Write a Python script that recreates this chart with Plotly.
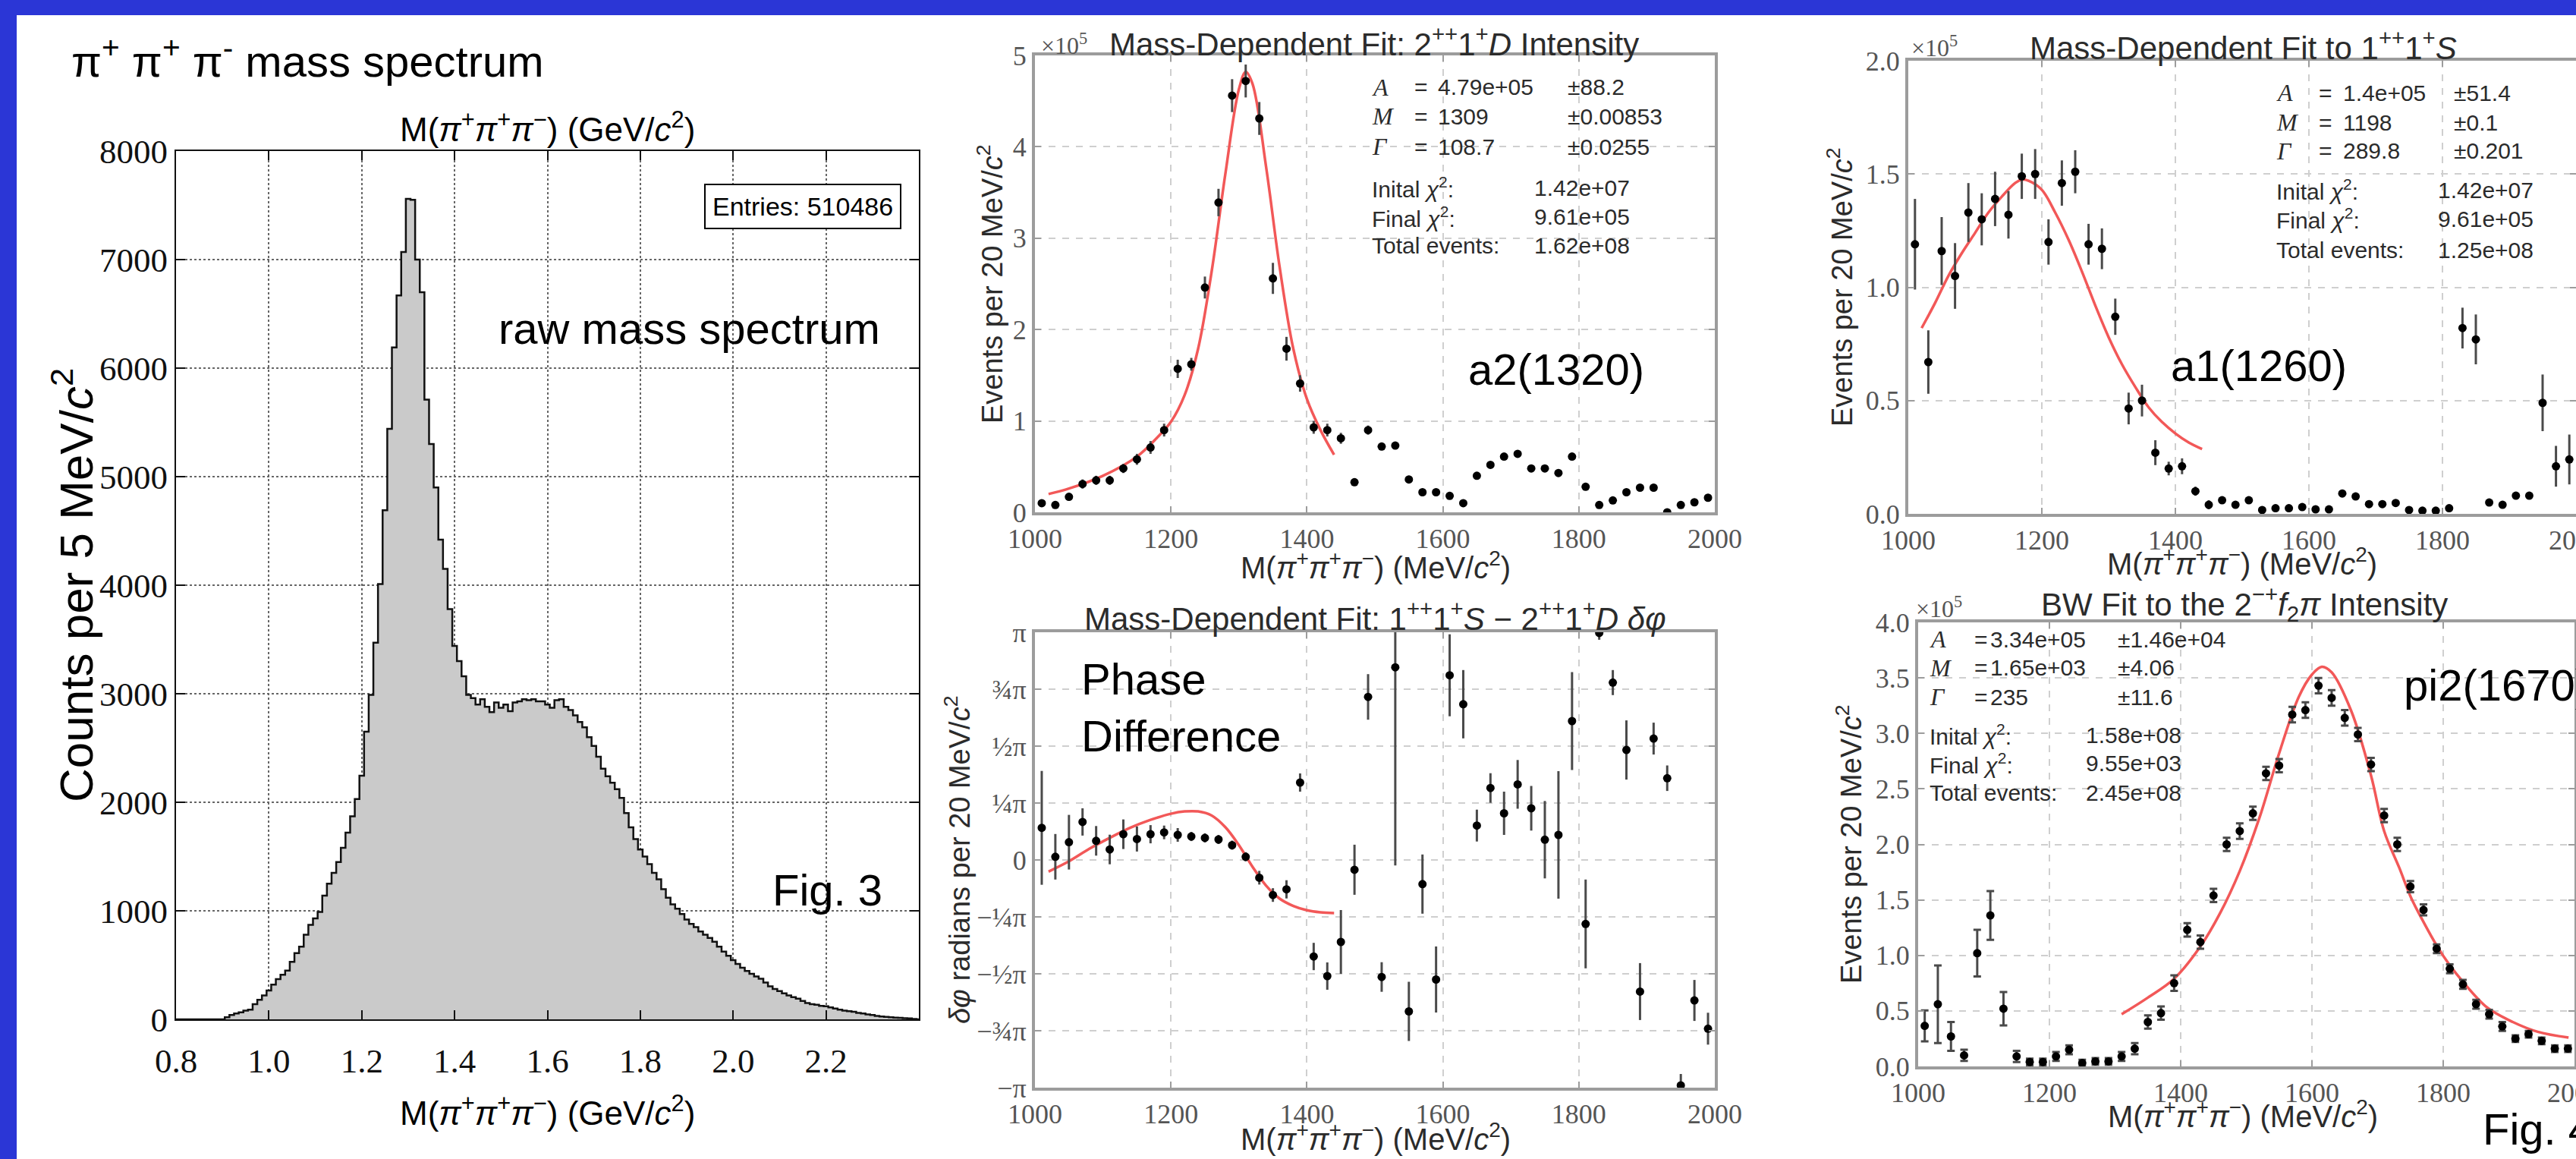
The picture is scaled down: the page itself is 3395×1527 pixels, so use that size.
import plotly.graph_objects as go

W, H = 3395, 1527

# ---------------- data ----------------
# Fig. 3 : raw 3pi mass spectrum (bin centre in GeV, counts per bin)
hist_mass = [0.80, 0.81, 0.82, 0.83, 0.84, 0.85, 0.86, 0.87, 0.88, 0.89,
             0.90, 0.91, 0.92, 0.93, 0.94, 0.95, 0.96, 0.97, 0.98, 0.99,
             1.00, 1.01, 1.02, 1.03, 1.04, 1.05, 1.06, 1.07, 1.08, 1.09,
             1.10, 1.11, 1.12, 1.13, 1.14, 1.15, 1.16, 1.17, 1.18, 1.19,
             1.20, 1.21, 1.22, 1.23, 1.24, 1.25, 1.26, 1.27, 1.28, 1.29,
             1.30, 1.31, 1.32, 1.33, 1.34, 1.35, 1.36, 1.37, 1.38, 1.39,
             1.40, 1.41, 1.42, 1.43, 1.44, 1.45, 1.46, 1.47, 1.48, 1.49,
             1.50, 1.51, 1.52, 1.53, 1.54, 1.55, 1.56, 1.57, 1.58, 1.59,
             1.60, 1.61, 1.62, 1.63, 1.64, 1.65, 1.66, 1.67, 1.68, 1.69,
             1.70, 1.71, 1.72, 1.73, 1.74, 1.75, 1.76, 1.77, 1.78, 1.79,
             1.80, 1.81, 1.82, 1.83, 1.84, 1.85, 1.86, 1.87, 1.88, 1.89,
             1.90, 1.91, 1.92, 1.93, 1.94, 1.95, 1.96, 1.97, 1.98, 1.99,
             2.00, 2.01, 2.02, 2.03, 2.04, 2.05, 2.06, 2.07, 2.08, 2.09,
             2.10, 2.11, 2.12, 2.13, 2.14, 2.15, 2.16, 2.17, 2.18, 2.19,
             2.20, 2.21, 2.22, 2.23, 2.24, 2.25, 2.26, 2.27, 2.28, 2.29,
             2.30, 2.31, 2.32, 2.33, 2.34, 2.35, 2.36, 2.37, 2.38, 2.39, 2.40]
hist_counts = [0, 0, 0, 0, 0, 0, 0, 0, 0, 0,
               0, 20, 40, 55, 65, 80, 90, 140, 180, 220,
               265, 320, 370, 410, 450, 530, 610, 670, 780, 870,
               930, 990, 1140, 1250, 1350, 1450, 1580, 1720, 1870, 2030,
               2245, 2650, 2990, 3470, 4010, 4690, 5440, 6190, 6670, 7070,
               7560, 7550, 7000, 6700, 5710, 5300, 4900, 4420, 4150, 3780,
               3440, 3300, 3160, 2990, 2960, 2900, 2950, 2880, 2830, 2920,
               2870, 2900, 2840, 2920, 2930, 2950, 2940, 2950, 2930, 2930,
               2900, 2870, 2940, 2950, 2880, 2850, 2800, 2740, 2690, 2600,
               2520, 2420, 2310, 2240, 2180, 2120, 2040, 1900, 1770, 1660,
               1565, 1500, 1430, 1350, 1290, 1200, 1120, 1060, 1020, 970,
               920, 880, 850, 810, 780, 750, 715, 670, 625, 585,
               545, 510, 475, 445, 420, 395, 375, 340, 305, 280,
               260, 240, 220, 205, 190, 170, 150, 140, 135, 125,
               120, 110, 100, 90, 80, 75, 70, 60, 55, 45,
               40, 32, 27, 22, 20, 16, 14, 10, 8, 4, 0]

# Fig. 4 : 20 MeV bins (MeV)
mass_mev = [1010, 1030, 1050, 1070, 1090, 1110, 1130, 1150, 1170, 1190,
            1210, 1230, 1250, 1270, 1290, 1310, 1330, 1350, 1370, 1390,
            1410, 1430, 1450, 1470, 1490, 1510, 1530, 1550, 1570, 1590,
            1610, 1630, 1650, 1670, 1690, 1710, 1730, 1750, 1770, 1790,
            1810, 1830, 1850, 1870, 1890, 1910, 1930, 1950, 1970, 1990]

# a2(1320): 2++1+D intensity (x 1e5)
a2_int = [0.10, 0.08, 0.17, 0.31, 0.35, 0.35, 0.48, 0.58, 0.71, 0.90,
          1.57, 1.62, 2.46, 3.39, 4.56, 4.72, 4.31, 2.56, 1.79, 1.41,
          0.93, 0.90, 0.81, 0.33, 0.90, 0.72, 0.73, 0.36, 0.22, 0.22,
          0.18, 0.10, 0.40, 0.52, 0.61, 0.64, 0.48, 0.48, 0.43, 0.61,
          0.28, 0.08, 0.13, 0.22, 0.27, 0.27, 0.00, 0.08, 0.11, 0.16]
a2_err = [0.04, 0.03, 0.04, 0.05, 0.05, 0.05, 0.05, 0.06, 0.07, 0.07,
          0.10, 0.07, 0.12, 0.15, 0.18, 0.18, 0.18, 0.17, 0.13, 0.09,
          0.07, 0.07, 0.06, 0.04, 0.05, 0.04, 0.04, 0.04, 0.03, 0.03,
          0.03, 0.03, 0.03, 0.03, 0.03, 0.03, 0.03, 0.03, 0.03, 0.04,
          0.03, 0.03, 0.03, 0.03, 0.03, 0.03, 0.03, 0.03, 0.03, 0.03]
a2_fit_m = [1020, 1050, 1100, 1150, 1180, 1200, 1220, 1240, 1260, 1280,
            1300, 1310, 1320, 1340, 1360, 1380, 1400, 1420, 1440]
a2_fit_v = [0.20, 0.26, 0.40, 0.61, 0.82, 0.99, 1.28, 1.79, 2.64, 3.70,
            4.63, 4.82, 4.69, 3.78, 2.68, 1.79, 1.24, 0.90, 0.63]

# phase difference 1++1+S - 2++1+D (units of pi)
ph_val = [0.141, 0.014, 0.078, 0.167, 0.084, 0.046, 0.113, 0.092, 0.113, 0.121,
          0.110, 0.103, 0.097, 0.090, 0.065, 0.014, -0.078, -0.154, -0.129, 0.340,
          -0.424, -0.510, -0.360, -0.043, 0.716, -0.514, 0.846, -0.665, -0.106, -0.525,
          0.811, 0.684, 0.151, 0.316, 0.205, 0.332, 0.227, 0.089, 0.110, 0.610,
          -0.281, 0.997, 0.779, 0.483, -0.578, 0.533, 0.359, -0.990, -0.617, -0.741]
ph_err = [0.25, 0.10, 0.12, 0.06, 0.065, 0.065, 0.065, 0.055, 0.04, 0.03,
          0.03, 0.02, 0.02, 0.02, 0.02, 0.02, 0.03, 0.03, 0.04, 0.04,
          0.06, 0.06, 0.14, 0.11, 0.10, 0.065, 0.87, 0.13, 0.13, 0.145,
          0.18, 0.15, 0.07, 0.065, 0.095, 0.107, 0.098, 0.17, 0.28, 0.215,
          0.195, 0.03, 0.055, 0.13, 0.125, 0.07, 0.056, 0.05, 0.09, 0.07]
ph_fit_m = [1020, 1050, 1080, 1110, 1140, 1170, 1200, 1220, 1240, 1260,
            1280, 1300, 1320, 1340, 1360, 1380, 1400, 1420, 1440]
ph_fit_v = [-0.051, -0.006, 0.049, 0.097, 0.141, 0.176, 0.203, 0.213, 0.213, 0.195,
            0.144, 0.065, -0.030, -0.113, -0.170, -0.202, -0.221, -0.230, -0.233]

# a1(1260): 1++1+S intensity (x 1e5)
a1_int = [1.19, 0.67, 1.16, 1.05, 1.33, 1.30, 1.39, 1.32, 1.49, 1.50,
          1.20, 1.46, 1.51, 1.19, 1.17, 0.87, 0.465, 0.50, 0.27, 0.20,
          0.21, 0.10, 0.04, 0.06, 0.04, 0.06, 0.017, 0.025, 0.025, 0.03,
          0.02, 0.02, 0.09, 0.077, 0.043, 0.043, 0.048, 0.017, 0.014, 0.014,
          0.025, 0.82, 0.77, 0.05, 0.04, 0.08, 0.08, 0.49, 0.21, 0.24]
a1_err = [0.20, 0.14, 0.15, 0.145, 0.13, 0.115, 0.12, 0.105, 0.10, 0.11,
          0.10, 0.10, 0.095, 0.09, 0.09, 0.08, 0.07, 0.07, 0.055, 0.03,
          0.035, 0.02, 0.02, 0.015, 0.015, 0.015, 0.01, 0.01, 0.01, 0.01,
          0.01, 0.01, 0.015, 0.015, 0.01, 0.01, 0.01, 0.01, 0.01, 0.01,
          0.01, 0.09, 0.11, 0.015, 0.015, 0.015, 0.015, 0.125, 0.09, 0.11]
a1_fit_m = [1020, 1040, 1060, 1080, 1100, 1120, 1140, 1160, 1170, 1180,
            1200, 1220, 1240, 1260, 1280, 1300, 1320, 1340, 1360, 1380,
            1400, 1420, 1440]
a1_fit_v = [0.82, 0.93, 1.05, 1.15, 1.24, 1.33, 1.40, 1.46, 1.475, 1.47,
            1.43, 1.33, 1.21, 1.07, 0.92, 0.78, 0.66, 0.56, 0.47, 0.405,
            0.355, 0.315, 0.286]

# pi2(1670): 2-+ f2 pi intensity (x 1e5)
pi2_int = [0.365, 0.56, 0.27, 0.10, 1.02, 1.36, 0.52, 0.09, 0.04, 0.04,
           0.09, 0.15, 0.03, 0.045, 0.045, 0.09, 0.16, 0.40, 0.48, 0.75,
           1.23, 1.12, 1.54, 2.00, 2.12, 2.28, 2.64, 2.71, 3.17, 3.21,
           3.43, 3.32, 3.14, 2.99, 2.72, 2.26, 2.00, 1.62, 1.41, 1.06,
           0.88, 0.74, 0.56, 0.47, 0.36, 0.25, 0.29, 0.23, 0.16, 0.16]
pi2_err = [0.14, 0.35, 0.13, 0.05, 0.21, 0.22, 0.15, 0.05, 0.03, 0.03,
           0.04, 0.04, 0.03, 0.03, 0.03, 0.04, 0.05, 0.06, 0.06, 0.07,
           0.06, 0.06, 0.06, 0.06, 0.07, 0.06, 0.06, 0.06, 0.07, 0.07,
           0.07, 0.07, 0.07, 0.06, 0.06, 0.06, 0.06, 0.05, 0.05, 0.04,
           0.04, 0.04, 0.04, 0.04, 0.04, 0.03, 0.03, 0.03, 0.03, 0.03]
pi2_fit_m = [1310, 1350, 1390, 1430, 1460, 1490, 1520, 1550, 1580, 1600,
             1615, 1630, 1660, 1690, 1710, 1733, 1751, 1771, 1791, 1809,
             1829, 1867, 1906, 1945, 1991]
pi2_fit_v = [0.47, 0.62, 0.79, 1.08, 1.38, 1.76, 2.24, 2.82, 3.33, 3.53,
             3.60, 3.55, 3.20, 2.62, 2.12, 1.79, 1.52, 1.29, 1.08, 0.92,
             0.77, 0.53, 0.40, 0.31, 0.26]

# tick labels
gev_ticks = [0.8, 1.0, 1.2, 1.4, 1.6, 1.8, 2.0, 2.2]
gev_labels = ["0.8", "1.0", "1.2", "1.4", "1.6", "1.8", "2.0", "2.2"]
count_ticks = [0, 1000, 2000, 3000, 4000, 5000, 6000, 7000, 8000]
mev_ticks = [1000, 1200, 1400, 1600, 1800, 2000]
phase_ticks = [-1, -0.75, -0.5, -0.25, 0, 0.25, 0.5, 0.75, 1]
phase_labels = ["−π", "−¾π", "−½π", "−¼π", "0", "¼π", "½π", "¾π", "π"]

# ---------------- styling ----------------
SANS = "Liberation Sans, Arial, sans-serif"
SERIF = "Liberation Serif, Times New Roman, serif"
BLUE = "#2b36d6"
RED = "#f25858"


def xdom(a, b):
    return [a / W, min(b / W, 1.0)]


def ydom(top, bottom):
    return [1 - bottom / H, 1 - top / H]


def px(x):
    return x / W


def py(y):
    return 1 - y / H


fig = go.Figure()

fig.add_trace(go.Scatter(x=hist_mass, y=hist_counts, mode="lines", line_shape="hvh",
                         line=dict(color="#111", width=2.5), fill="tozeroy",
                         fillcolor="#cacaca", xaxis="x", yaxis="y", hoverinfo="skip"))


def pts(x, y, e, xa, ya, caps=0):
    return go.Scatter(x=x, y=y, mode="markers", xaxis=xa, yaxis=ya,
                      marker=dict(color="black", size=11),
                      error_y=dict(type="data", array=e, color="#4a4a4a",
                                   thickness=3, width=caps))


def fitline(x, y, xa, ya):
    return go.Scatter(x=x, y=y, mode="lines", line_shape="spline",
                      line=dict(color=RED, width=3.5), xaxis=xa, yaxis=ya)


fig.add_trace(fitline(a2_fit_m, a2_fit_v, "x2", "y2"))
fig.add_trace(pts(mass_mev, a2_int, a2_err, "x2", "y2"))
fig.add_trace(fitline(ph_fit_m, ph_fit_v, "x3", "y3"))
fig.add_trace(pts(mass_mev, ph_val, ph_err, "x3", "y3"))
fig.add_trace(fitline(a1_fit_m, a1_fit_v, "x4", "y4"))
fig.add_trace(pts(mass_mev, a1_int, a1_err, "x4", "y4"))
fig.add_trace(fitline(pi2_fit_m, pi2_fit_v, "x5", "y5"))
fig.add_trace(pts(mass_mev, pi2_int, pi2_err, "x5", "y5", caps=5))

p1_axis = dict(showline=True, linecolor="#111", linewidth=2, mirror="ticks",
               ticks="inside", ticklen=12, tickwidth=2, tickcolor="#111",
               showgrid=True, gridcolor="#666", griddash="dot", gridwidth=2,
               zeroline=False, automargin=False,
               tickfont=dict(family=SERIF, size=45, color="#111"))

g_axis = dict(showline=True, linecolor="#9c9c9c", linewidth=4, mirror="ticks",
              ticks="inside", ticklen=8, tickwidth=2, tickcolor="#9c9c9c",
              showgrid=True, gridcolor="#cfcfcf", griddash="dash", gridwidth=2,
              zeroline=False, automargin=False, ticklabeloverflow="allow",
              tickfont=dict(family=SERIF, size=36, color="#555"))

layout = dict(
    width=W, height=H, margin=dict(l=0, r=0, t=0, b=0, pad=0),
    paper_bgcolor="white", plot_bgcolor="white", showlegend=False,
    xaxis=dict(p1_axis, domain=xdom(232, 1211), range=[0.8, 2.4],
               tickvals=gev_ticks, ticktext=gev_labels, anchor="y", ticklabelstandoff=14),
    yaxis=dict(p1_axis, domain=ydom(199, 1343), range=[0, 8000],
               tickvals=count_ticks, anchor="x"),
    xaxis2=dict(g_axis, domain=xdom(1364, 2260), range=[1000, 2000],
                tickvals=mev_ticks, anchor="y2"),
    yaxis2=dict(g_axis, domain=ydom(73, 675), range=[0, 5],
                tickvals=[0, 1, 2, 3, 4, 5], anchor="x2"),
    xaxis3=dict(g_axis, domain=xdom(1364, 2260), range=[1000, 2000],
                tickvals=mev_ticks, anchor="y3"),
    yaxis3=dict(g_axis, domain=ydom(833, 1433), range=[-1, 1],
                tickvals=phase_ticks, ticktext=phase_labels, anchor="x3"),
    xaxis4=dict(g_axis, domain=xdom(2515, 3395), range=[1000, 2000],
                tickvals=mev_ticks, anchor="y4"),
    yaxis4=dict(g_axis, domain=ydom(80, 677), range=[0, 2.0],
                tickvals=[0, 0.5, 1.0, 1.5, 2.0], ticktext=["0.0", "0.5", "1.0", "1.5", "2.0"],
                anchor="x4"),
    xaxis5=dict(g_axis, domain=xdom(2528, 3393), range=[1000, 2000],
                tickvals=mev_ticks, anchor="y5"),
    yaxis5=dict(g_axis, domain=ydom(820, 1405), range=[0, 4.0],
                tickvals=[0, 0.5, 1.0, 1.5, 2.0, 2.5, 3.0, 3.5, 4.0],
                ticktext=["0.0", "0.5", "1.0", "1.5", "2.0", "2.5", "3.0", "3.5", "4.0"],
                anchor="x5"),
)
fig.update_layout(**layout)

# blue slide border (top and left)
fig.add_shape(type="rect", xref="paper", yref="paper", x0=0, x1=1, y0=py(20), y1=1,
              fillcolor=BLUE, line_width=0, layer="above")
fig.add_shape(type="rect", xref="paper", yref="paper", x0=0, x1=px(22), y0=0, y1=1,
              fillcolor=BLUE, line_width=0, layer="above")

anns = []


def ann(text, x, y, size, xanchor="left", yanchor="middle", family=SANS,
        color="black", angle=0, **kw):
    d = dict(text=text, x=px(x), y=py(y), xref="paper", yref="paper",
             xanchor=xanchor, yanchor=yanchor, showarrow=False,
             font=dict(family=family, size=size, color=color), textangle=angle)
    d.update(kw)
    anns.append(d)


PIPIPI = "<i>π</i><sup>+</sup><i>π</i><sup>+</sup><i>π</i><sup>−</sup>"

# slide texts
ann("π<sup>+</sup> π<sup>+</sup> π<sup>-</sup> mass spectrum", 92, 76, 58)
ann("raw mass spectrum", 655, 433, 58)
ann("Fig. 3", 1016, 1172, 58)
ann("a2(1320)", 1933, 486, 58)
ann("Phase<br>Difference", 1423, 932, 58, align="left")
ann("a1(1260)", 2859, 482, 58)
ann("pi2(1670)", 3166, 902, 58)
ann("Fig. 4", 3270, 1487, 58)

# Fig. 3 labels
ann("M(" + PIPIPI + ") (GeV/<i>c</i><sup>2</sup>)", 721, 168, 44, xanchor="center")
ann("M(" + PIPIPI + ") (GeV/<i>c</i><sup>2</sup>)", 721, 1463, 44, xanchor="center")
ann("Counts per 5 MeV/<i>c</i><sup>2</sup>", 96, 771, 62, xanchor="center", angle=-90)
ann("Entries: 510486", 1058, 272, 34, xanchor="center", bordercolor="black",
    borderwidth=2, borderpad=9, bgcolor="white")

# Fig. 4 common labels
DK = "#2b2b2b"
XT = "M(" + PIPIPI + ") (MeV/<i>c</i><sup>2</sup>)"
YT = "Events per 20 MeV/<i>c</i><sup>2</sup>"
ann("Mass-Dependent Fit: 2<sup>++</sup>1<sup>+</sup><i>D</i> Intensity", 1811, 55, 42,
    xanchor="center", color=DK)
ann("×10<sup>5</sup>", 1370, 58, 32, family=SERIF, color="#555")
ann(XT, 1813, 745, 40, xanchor="center", color=DK)
ann(YT, 1305, 374, 38, xanchor="center", angle=-90, color=DK)

ann("Mass-Dependent Fit: 1<sup>++</sup>1<sup>+</sup><i>S</i> − 2<sup>++</sup>1<sup>+</sup><i>D</i> <i>δφ</i>",
    1812, 812, 42, xanchor="center", color=DK)
ann(XT, 1813, 1498, 40, xanchor="center", color=DK)
ann("<i>δφ</i> radians per 20 MeV/<i>c</i><sup>2</sup>", 1262, 1133, 38, xanchor="center",
    angle=-90, color=DK)

ann("Mass-Dependent Fit to 1<sup>++</sup>1<sup>+</sup><i>S</i>", 2956, 60, 42,
    xanchor="center", color=DK)
ann("×10<sup>5</sup>", 2517, 61, 32, family=SERIF, color="#555")
ann(XT, 2955, 740, 40, xanchor="center", color=DK)
ann(YT, 2425, 378, 38, xanchor="center", angle=-90, color=DK)

ann("BW Fit to the 2<sup>−+</sup><i>f</i><sub>2</sub><i>π</i> Intensity", 2958, 795, 42,
    xanchor="center", color=DK)
ann("×10<sup>5</sup>", 2523, 800, 32, family=SERIF, color="#555")
ann(XT, 2956, 1468, 40, xanchor="center", color=DK)
ann(YT, 2437, 1112, 38, xanchor="center", angle=-90, color=DK)


def stats(rows, ys, xl, xeq, xv, xe, xv2):
    for i, (lab, val, err) in enumerate(rows[:3]):
        ann("<i>" + lab + "</i>", xl, ys[i], 32, family=SERIF, color=DK)
        ann("=", xeq, ys[i], 30, color=DK)
        ann(val, xv, ys[i], 30, color=DK)
        ann(err, xe, ys[i], 30, color=DK)
    for j, (lab, val) in enumerate(rows[3:]):
        ann(lab, xl, ys[3 + j], 30, color=DK)
        ann(val, xv2, ys[3 + j], 30, color=DK)


CHI = "<i>χ</i><sup>2</sup>:"
stats([("A", "4.79e+05", "±88.2"), ("M", "1309", "±0.00853"), ("Γ", "108.7", "±0.0255"),
       ("Inital " + CHI, "1.42e+07"), ("Final " + CHI, "9.61e+05"),
       ("Total events:", "1.62e+08")],
      [115, 153, 193, 247, 286, 324], 1806, 1862, 1893, 2064, 2020)
stats([("A", "1.4e+05", "±51.4"), ("M", "1198", "±0.1"), ("Γ", "289.8", "±0.201"),
       ("Inital " + CHI, "1.42e+07"), ("Final " + CHI, "9.61e+05"),
       ("Total events:", "1.25e+08")],
      [122, 161, 199, 250, 288, 329], 2998, 3054, 3086, 3232, 3211)
stats([("A", "3.34e+05", "±1.46e+04"), ("M", "1.65e+03", "±4.06"), ("Γ", "235", "±11.6"),
       ("Inital " + CHI, "1.58e+08"), ("Final " + CHI, "9.55e+03"),
       ("Total events:", "2.45e+08")],
      [842, 880, 918, 968, 1006, 1044], 2541, 2600, 2621, 2789, 2747)

fig.update_layout(annotations=anns)

fig.write_html("out.html", config={"displayModeBar": False},
               post_script="document.body.style.margin='0';document.body.style.overflow='hidden';")
